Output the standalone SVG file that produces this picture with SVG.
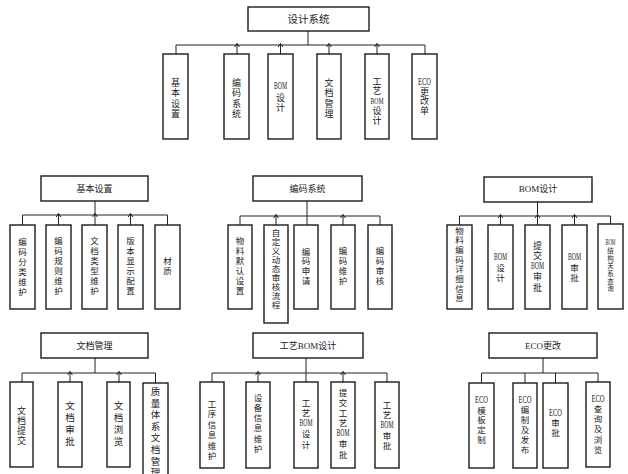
<svg xmlns="http://www.w3.org/2000/svg" width="628" height="474" viewBox="0 0 628 474">
<style>
.box{fill:#fff;stroke:#1a1a1a;stroke-width:1.4}
.t{font-family:"Liberation Serif","Noto Sans CJK SC",serif;fill:#222;text-anchor:middle}
.h{font-size:9px}
.ht{font-size:10.5px}
.vt{font-size:9px}
.v{font-size:8.5px}
.v9{font-size:9px}
.v10{font-size:9.5px}
.s{font-size:6.5px}
.l{font-size:9.5px}
.lt{font-size:8.5px}
.ls{font-size:7.5px}
.c{fill:none;stroke:#222;stroke-width:1}
.a{marker-end:url(#arr)}
</style>
<defs>
<marker id="arr" markerUnits="userSpaceOnUse" markerWidth="6" markerHeight="6" viewBox="0 0 6 6" refX="4" refY="3" orient="auto" overflow="visible">
<path d="M0.5,0.6 L4,3 L0.5,5.4" fill="none" stroke="#222" stroke-width="1"/>
</marker>
</defs>
<rect width="628" height="474" fill="#fff"/>
<g id="connectors" class="c">
<path d="M308,31V45M176,45H425M176,45V54M425,45V54"/>
<path class="a" d="M237,54V43.5"/><path class="a" d="M280.5,54V43.5"/><path class="a" d="M329,54V43.5"/><path class="a" d="M377,54V43.5"/>
<path d="M95,201V215M22.5,215H167.5M22.5,215V225M167.5,215V225"/>
<path class="a" d="M58.5,225V213.5"/><path class="a" d="M95,225V213.5"/><path class="a" d="M130.5,225V213.5"/>
<path d="M307,201V225M240,216H380M240,216V225M380,216V225"/>
<path class="a" d="M276,225V214.5"/><path class="a" d="M343,225V214.5"/>
<path d="M537.5,202V216M459.5,216H610.5M459.5,216V225M610.5,216V225"/>
<path class="a" d="M500.5,225V214.5"/><path class="a" d="M537.5,225V214.5"/><path class="a" d="M574.5,225V214.5"/>
<path d="M95,358V373M22,373H155.5M22,373V382M155.5,373V383"/>
<path class="a" d="M70,382V371.5"/><path class="a" d="M119,382V371.5"/>
<path d="M306,358V382M212,373H387M212,373V382M387,373V382"/>
<path class="a" d="M258,382V371.5"/><path class="a" d="M343,382V371.5"/>
<path d="M543,358V373M481.5,373H598M481.5,373V383M598,373V382M525,373V383M555.5,373V383"/>
</g>

<g id="root"><rect class="box" x="248" y="7" width="121" height="24"/><text class="t ht" x="308.5" y="23">设计系统</text></g>

<g id="n-jbsz"><rect class="box" x="163" y="54" width="25" height="85"/><text class="t vt"><tspan x="175.5" y="85.5">基</tspan><tspan x="175.5" y="96">本</tspan><tspan x="175.5" y="106.5">设</tspan><tspan x="175.5" y="117">置</tspan></text></g>
<g id="n-bmxt"><rect class="box" x="224" y="54" width="25" height="85"/><text class="t vt"><tspan x="236.5" y="85.5">编</tspan><tspan x="236.5" y="96">码</tspan><tspan x="236.5" y="106.5">系</tspan><tspan x="236.5" y="117">统</tspan></text></g>
<g id="n-bomsj"><rect class="box" x="268" y="54" width="25" height="85"/><text class="t vt"><tspan class="l" x="280.5" y="88.5" textLength="13" lengthAdjust="spacingAndGlyphs">BOM</tspan><tspan x="280.5" y="100.5">设</tspan><tspan x="280.5" y="111">计</tspan></text></g>
<g id="n-wdgl"><rect class="box" x="317" y="54" width="24" height="85"/><text class="t vt"><tspan x="329" y="85.5">文</tspan><tspan x="329" y="96">档</tspan><tspan x="329" y="106.5">管</tspan><tspan x="329" y="117">理</tspan></text></g>
<g id="n-gybom"><rect class="box" x="365" y="54" width="24" height="85"/><text class="t vt"><tspan x="377" y="84.5">工</tspan><tspan x="377" y="94">艺</tspan><tspan class="lt" x="377" y="103.5" textLength="13" lengthAdjust="spacingAndGlyphs">BOM</tspan><tspan x="377" y="113.5">设</tspan><tspan x="377" y="123.5">计</tspan></text></g>
<g id="n-eco"><rect class="box" x="412" y="54" width="25" height="85"/><text class="t vt"><tspan class="l" x="424.5" y="84.5" textLength="13" lengthAdjust="spacingAndGlyphs">ECO</tspan><tspan x="424.5" y="94.5">更</tspan><tspan x="424.5" y="104">改</tspan><tspan x="424.5" y="114">单</tspan></text></g>

<g id="h-jbsz"><rect class="box" x="41" y="176" width="107" height="25"/><text class="t h" x="94.5" y="191.5">基本设置</text></g>
<g id="a1"><rect class="box" x="10" y="225" width="25" height="84"/><text class="t v"><tspan x="22.5" y="244.5">编</tspan><tspan x="22.5" y="254.5">码</tspan><tspan x="22.5" y="264.5">分</tspan><tspan x="22.5" y="274.5">类</tspan><tspan x="22.5" y="284.5">维</tspan><tspan x="22.5" y="294.5">护</tspan></text></g>
<g id="a2"><rect class="box" x="46" y="225" width="25" height="84"/><text class="t v"><tspan x="58.5" y="244">编</tspan><tspan x="58.5" y="254">码</tspan><tspan x="58.5" y="264">规</tspan><tspan x="58.5" y="274">则</tspan><tspan x="58.5" y="284">维</tspan><tspan x="58.5" y="294">护</tspan></text></g>
<g id="a3"><rect class="box" x="82" y="225" width="25" height="84"/><text class="t v"><tspan x="94.5" y="244">文</tspan><tspan x="94.5" y="254">档</tspan><tspan x="94.5" y="264">类</tspan><tspan x="94.5" y="274">型</tspan><tspan x="94.5" y="284">维</tspan><tspan x="94.5" y="294">护</tspan></text></g>
<g id="a4"><rect class="box" x="118" y="225" width="25" height="84"/><text class="t v"><tspan x="130.5" y="244">版</tspan><tspan x="130.5" y="254">本</tspan><tspan x="130.5" y="264">显</tspan><tspan x="130.5" y="274">示</tspan><tspan x="130.5" y="284">配</tspan><tspan x="130.5" y="294">置</tspan></text></g>
<g id="a5"><rect class="box" x="155" y="225" width="25" height="84"/><text class="t v"><tspan x="167.5" y="263.5">材</tspan><tspan x="167.5" y="273.5">质</tspan></text></g>

<g id="h-bmxt"><rect class="box" x="253" y="176" width="109" height="25"/><text class="t h" x="307.5" y="191.5">编码系统</text></g>
<g id="b1"><rect class="box" x="228" y="225" width="24" height="84"/><text class="t v"><tspan x="240" y="243.5">物</tspan><tspan x="240" y="253.5">料</tspan><tspan x="240" y="263.5">默</tspan><tspan x="240" y="273.5">认</tspan><tspan x="240" y="283.5">设</tspan><tspan x="240" y="294">置</tspan></text></g>
<g id="b2"><rect class="box" x="264" y="225" width="24" height="98"/><text class="t v"><tspan x="276" y="235.5">自</tspan><tspan x="276" y="244.6">定</tspan><tspan x="276" y="253.7">义</tspan><tspan x="276" y="262.8">动</tspan><tspan x="276" y="271.9">态</tspan><tspan x="276" y="281">审</tspan><tspan x="276" y="290.1">核</tspan><tspan x="276" y="299.2">流</tspan><tspan x="276" y="308.3">程</tspan></text></g>
<g id="b3"><rect class="box" x="294" y="225" width="24" height="84"/><text class="t v"><tspan x="306" y="254.5">编</tspan><tspan x="306" y="264">码</tspan><tspan x="306" y="273.5">申</tspan><tspan x="306" y="283.5">请</tspan></text></g>
<g id="b4"><rect class="box" x="331" y="225" width="24" height="84"/><text class="t v"><tspan x="343" y="253.5">编</tspan><tspan x="343" y="263.5">码</tspan><tspan x="343" y="273.5">维</tspan><tspan x="343" y="283.5">护</tspan></text></g>
<g id="b5"><rect class="box" x="368" y="225" width="24" height="84"/><text class="t v"><tspan x="380" y="253.5">编</tspan><tspan x="380" y="263.5">码</tspan><tspan x="380" y="273.5">审</tspan><tspan x="380" y="283.5">核</tspan></text></g>

<g id="h-bomsj"><rect class="box" x="484" y="177" width="108" height="25"/><text class="t h" x="538" y="192">BOM设计</text></g>
<g id="c1"><rect class="box" x="447" y="225" width="25" height="84"/><text class="t v"><tspan x="459.5" y="233.5">物</tspan><tspan x="459.5" y="243.2">料</tspan><tspan x="459.5" y="252.9">编</tspan><tspan x="459.5" y="262.6">码</tspan><tspan x="459.5" y="272.3">详</tspan><tspan x="459.5" y="282">细</tspan><tspan x="459.5" y="291.7">信</tspan><tspan x="459.5" y="301.4">息</tspan></text></g>
<g id="c2"><rect class="box" x="488" y="225" width="25" height="84"/><text class="t v"><tspan class="l" x="500.5" y="259.5" textLength="13" lengthAdjust="spacingAndGlyphs">BOM</tspan><tspan x="500.5" y="270.5">设</tspan><tspan x="500.5" y="280.5">计</tspan></text></g>
<g id="c3"><rect class="box" x="525" y="225" width="25" height="84"/><text class="t v9"><tspan x="537.5" y="248.5">提</tspan><tspan x="537.5" y="258.5">交</tspan><tspan class="l" x="537.5" y="268.5" textLength="13" lengthAdjust="spacingAndGlyphs">BOM</tspan><tspan x="537.5" y="279.5">审</tspan><tspan x="537.5" y="290.5">批</tspan></text></g>
<g id="c4"><rect class="box" x="562" y="225" width="25" height="84"/><text class="t v"><tspan class="l" x="574.5" y="259.5" textLength="13" lengthAdjust="spacingAndGlyphs">BOM</tspan><tspan x="574.5" y="270.5">审</tspan><tspan x="574.5" y="280.5">批</tspan></text></g>
<g id="c5"><rect class="box" x="598" y="224" width="25" height="85"/><text class="t s"><tspan class="ls" x="610.5" y="244.5" textLength="10" lengthAdjust="spacingAndGlyphs">BOM</tspan><tspan x="610.5" y="253.2">结</tspan><tspan x="610.5" y="260.8">构</tspan><tspan x="610.5" y="268.4">关</tspan><tspan x="610.5" y="276">系</tspan><tspan x="610.5" y="283.6">查</tspan><tspan x="610.5" y="291.2">询</tspan></text></g>

<g id="h-wdgl"><rect class="box" x="41" y="333" width="107" height="25"/><text class="t h" x="94.5" y="349">文档管理</text></g>
<g id="d1"><rect class="box" x="10" y="382" width="23" height="85"/><text class="t v9"><tspan x="21.5" y="413.5">文</tspan><tspan x="21.5" y="423.5">档</tspan><tspan x="21.5" y="433.5">提</tspan><tspan x="21.5" y="443.5">交</tspan></text></g>
<g id="d2"><rect class="box" x="58" y="382" width="24" height="85"/><text class="t v10"><tspan x="70" y="409">文</tspan><tspan x="70" y="421">档</tspan><tspan x="70" y="433">审</tspan><tspan x="70" y="445">批</tspan></text></g>
<g id="d3"><rect class="box" x="107" y="382" width="23" height="85"/><text class="t v10"><tspan x="118.5" y="409">文</tspan><tspan x="118.5" y="421">档</tspan><tspan x="118.5" y="433">浏</tspan><tspan x="118.5" y="445">览</tspan></text></g>
<g id="d4"><rect class="box" x="143" y="383" width="25" height="100"/><text class="t v10"><tspan x="155.5" y="395">质</tspan><tspan x="155.5" y="406.6">量</tspan><tspan x="155.5" y="418.2">体</tspan><tspan x="155.5" y="429.8">系</tspan><tspan x="155.5" y="441.4">文</tspan><tspan x="155.5" y="453">档</tspan><tspan x="155.5" y="464.6">管</tspan><tspan x="155.5" y="476.2">理</tspan></text></g>

<g id="h-gybom"><rect class="box" x="253" y="333" width="110" height="25"/><text class="t h" x="308" y="349">工艺BOM设计</text></g>
<g id="e1"><rect class="box" x="200" y="382" width="24" height="86"/><text class="t v"><tspan x="212" y="406.5">工</tspan><tspan x="212" y="417">序</tspan><tspan x="212" y="427.5">信</tspan><tspan x="212" y="438">息</tspan><tspan x="212" y="448.5">维</tspan><tspan x="212" y="459">护</tspan></text></g>
<g id="e2"><rect class="box" x="246" y="382" width="24" height="86"/><text class="t v"><tspan x="258" y="400.5">设</tspan><tspan x="258" y="410.8">备</tspan><tspan x="258" y="421.1">信</tspan><tspan x="258" y="431.4">息</tspan><tspan x="258" y="441.7">维</tspan><tspan x="258" y="452">护</tspan></text></g>
<g id="e3"><rect class="box" x="294" y="382" width="24" height="86"/><text class="t v"><tspan x="306" y="405.5">工</tspan><tspan x="306" y="415.5">艺</tspan><tspan class="l" x="306" y="426" textLength="13" lengthAdjust="spacingAndGlyphs">BOM</tspan><tspan x="306" y="436.5">设</tspan><tspan x="306" y="448">计</tspan></text></g>
<g id="e4"><rect class="box" x="331" y="382" width="24" height="86"/><text class="t v"><tspan x="343" y="395.5">提</tspan><tspan x="343" y="405.5">交</tspan><tspan x="343" y="415.5">工</tspan><tspan x="343" y="425.5">艺</tspan><tspan class="l" x="343" y="435.5" textLength="13" lengthAdjust="spacingAndGlyphs">BOM</tspan><tspan x="343" y="446.5">审</tspan><tspan x="343" y="457.5">批</tspan></text></g>
<g id="e5"><rect class="box" x="375" y="382" width="24" height="86"/><text class="t v"><tspan x="387" y="407.5">工</tspan><tspan x="387" y="417.5">艺</tspan><tspan class="l" x="387" y="428" textLength="13" lengthAdjust="spacingAndGlyphs">BOM</tspan><tspan x="387" y="438.5">审</tspan><tspan x="387" y="448.5">批</tspan></text></g>

<g id="h-eco"><rect class="box" x="489" y="333" width="108" height="25"/><text class="t h" x="543" y="349">ECO更改</text></g>
<g id="f1"><rect class="box" x="469" y="383" width="25" height="85"/><text class="t v"><tspan class="l" x="481.5" y="402.5" textLength="13" lengthAdjust="spacingAndGlyphs">ECO</tspan><tspan x="481.5" y="413.5">模</tspan><tspan x="481.5" y="422.8">板</tspan><tspan x="481.5" y="432.5">定</tspan><tspan x="481.5" y="442.5">制</tspan></text></g>
<g id="f2"><rect class="box" x="513" y="383" width="24" height="85"/><text class="t v"><tspan class="l" x="525" y="402.5" textLength="13" lengthAdjust="spacingAndGlyphs">ECO</tspan><tspan x="525" y="412.5">编</tspan><tspan x="525" y="422.5">制</tspan><tspan x="525" y="432.5">及</tspan><tspan x="525" y="442.5">发</tspan><tspan x="525" y="452.5">布</tspan></text></g>
<g id="f3"><rect class="box" x="543" y="383" width="25" height="85"/><text class="t v"><tspan class="l" x="555.5" y="415.5" textLength="13" lengthAdjust="spacingAndGlyphs">ECO</tspan><tspan x="555.5" y="425.5">审</tspan><tspan x="555.5" y="435.5">批</tspan></text></g>
<g id="f4"><rect class="box" x="586" y="382" width="24" height="85"/><text class="t v"><tspan class="l" x="598" y="401.5" textLength="13" lengthAdjust="spacingAndGlyphs">ECO</tspan><tspan x="598" y="411.5">查</tspan><tspan x="598" y="421.5">询</tspan><tspan x="598" y="431.5">及</tspan><tspan x="598" y="442.5">浏</tspan><tspan x="598" y="452.5">览</tspan></text></g>
</svg>
